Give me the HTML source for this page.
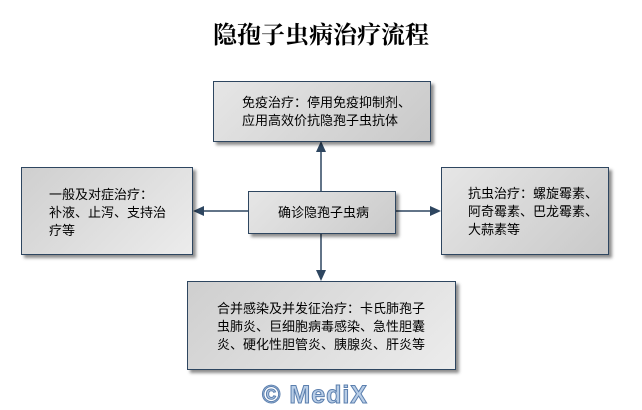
<!DOCTYPE html>
<html><head><meta charset="utf-8"><style>
body{margin:0;width:642px;height:410px;background:#fff;position:relative;overflow:hidden;font-family:"Liberation Sans","Noto Sans CJK SC",sans-serif;}
.b{position:absolute;box-sizing:border-box;border:1px solid #2e4660;background:linear-gradient(135deg,#cfcfcf,#ececec);box-shadow:3px 3px 3px rgba(0,0,0,.45);font-size:13px;line-height:18px;color:#000;}
.t{position:absolute;left:0;top:18px;width:642px;text-align:center;font-family:"Noto Serif CJK SC","Liberation Serif",serif;font-weight:bold;font-size:24px;line-height:30px;}
.wm{position:absolute;left:262px;top:381px;font-size:25px;font-weight:bold;color:#b8cde6;-webkit-text-stroke:1px #5b7fae;font-family:"Liberation Sans",sans-serif;letter-spacing:1px;}
</style></head><body>
<div class="t">隐孢子虫病治疗流程</div>
<svg style="position:absolute;left:0;top:0" width="642" height="410">
<g stroke="#2e4660" stroke-width="1.5" fill="#2e4660">
<line x1="321" y1="191" x2="321" y2="150"/><polygon points="316,152 326,152 321,141" stroke="none"/>
<line x1="321" y1="233" x2="321" y2="272"/><polygon points="316,270 326,270 321,281" stroke="none"/>
<line x1="248" y1="211" x2="202" y2="211"/><polygon points="204,206 204,216 193,211" stroke="none"/>
<line x1="395" y1="211" x2="432" y2="211"/><polygon points="430,206 430,216 441,211" stroke="none"/>
</g></svg>
<div class="b" style="left:213px;top:81px;width:218px;height:61px;padding:12px 0 0 28px;background:linear-gradient(135deg,#e6e6e6,#c9c9c9)">免疫治疗：停用免疫抑制剂、<br>应用高效价抗隐孢子虫抗体</div>
<div class="b" style="left:248px;top:191px;width:148px;height:43px;padding:12px 0 0 29px;background:linear-gradient(135deg,#e6e6e6,#cbcbcb)">确诊隐孢子虫病</div>
<div class="b" style="left:21px;top:167px;width:172px;height:88px;padding:18px 0 0 27px">一般及对症治疗：<br>补液、止泻、支持治<br>疗等</div>
<div class="b" style="left:441px;top:167px;width:168px;height:88px;padding:17px 0 0 26px;background:linear-gradient(135deg,#e6e6e6,#c9c9c9)">抗虫治疗：螺旋霉素、<br>阿奇霉素、巴龙霉素、<br>大蒜素等</div>
<div class="b" style="left:187px;top:281px;width:269px;height:89px;padding:18px 0 0 29px">合并感染及并发征治疗：卡氏肺孢子<br>虫肺炎、巨细胞病毒感染、急性胆囊<br>炎、硬化性胆管炎、胰腺炎、肝炎等</div>
<div class="wm">© MediX</div>
</body></html>
